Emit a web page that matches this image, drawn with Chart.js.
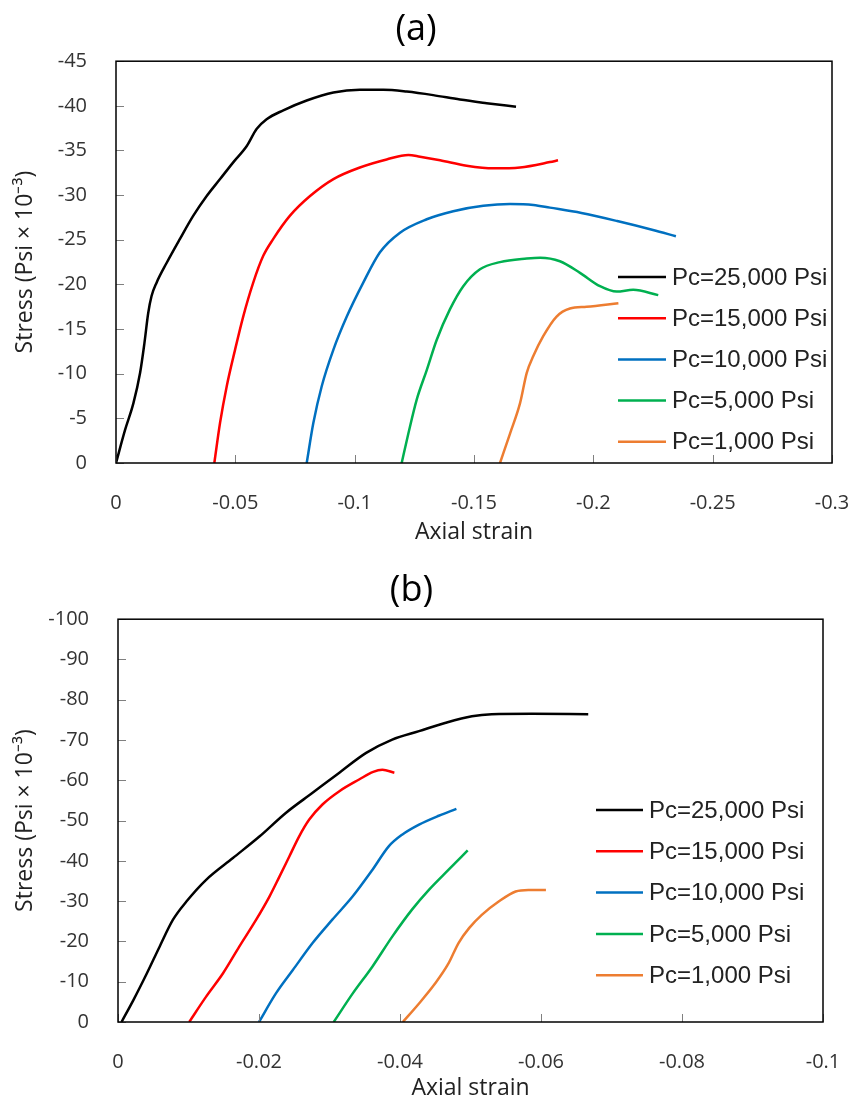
<!DOCTYPE html>
<html>
<head>
<meta charset="utf-8">
<script src="https://cdn.jsdelivr.net/npm/chart.js@4.4.1/dist/chart.umd.min.js"></script>
<style>
  body { margin: 0; background: #fff; }
  canvas { display: block; }
</style>
</head>
<body>
<canvas id="chartA" width="854" height="551"></canvas>
<canvas id="chartB" width="854" height="551"></canvas>
<script>
const seriesLabels = ['Pc=25,000 Psi', 'Pc=15,000 Psi', 'Pc=10,000 Psi', 'Pc=5,000 Psi', 'Pc=1,000 Psi'];
const seriesColors = ['#000000', '#FF0000', '#0070C0', '#00B050', '#ED7D31'];

// tick values
const xTicksA = [0, -0.05, -0.1, -0.15, -0.2, -0.25, -0.3];
const yTicksA = [0, -5, -10, -15, -20, -25, -30, -35, -40, -45];
const xTicksB = [0, -0.02, -0.04, -0.06, -0.08, -0.1];
const yTicksB = [0, -10, -20, -30, -40, -50, -60, -70, -80, -90, -100];

// (a) axial strain / stress (Psi x 10^-3)
const strainA25 = [0, -0.0038, -0.0073, -0.0101, -0.0119, -0.0135, -0.0149, -0.0170, -0.0212, -0.0268, -0.0324, -0.0380, -0.0436, -0.0492, -0.0548, -0.0589, -0.0631, -0.0701, -0.0799, -0.0911, -0.1022, -0.1120, -0.1218, -0.1329, -0.1441, -0.1553, -0.1676];
const stressA25 = [0, -3.7, -6.7, -10.1, -13.4, -16.8, -18.7, -20.2, -22.4, -25.1, -27.7, -29.9, -31.8, -33.7, -35.5, -37.4, -38.5, -39.5, -40.6, -41.5, -41.8, -41.8, -41.6, -41.2, -40.7, -40.3, -39.9];
const strainA15 = [-0.0412, -0.0436, -0.0464, -0.0499, -0.0533, -0.0575, -0.0617, -0.0659, -0.0729, -0.0813, -0.0911, -0.1022, -0.1134, -0.1225, -0.1274, -0.1358, -0.1469, -0.1581, -0.1693, -0.1818, -0.1852];
const stressA15 = [0, -4.5, -8.6, -12.7, -16.4, -20.2, -23.2, -25.1, -27.7, -29.9, -31.8, -33.1, -34.0, -34.5, -34.3, -33.9, -33.3, -33.0, -33.1, -33.7, -33.9];
const strainA10 = [-0.0799, -0.0827, -0.0862, -0.0911, -0.0967, -0.1036, -0.1106, -0.1190, -0.1302, -0.1413, -0.1539, -0.1651, -0.1749, -0.1818, -0.1950, -0.2100, -0.2250, -0.2346];
const stressA10 = [0, -4.5, -8.6, -12.7, -16.4, -20.2, -23.6, -25.8, -27.3, -28.2, -28.8, -29.0, -28.9, -28.6, -28.0, -27.1, -26.1, -25.4];
const strainA5 = [-0.1197, -0.1225, -0.1260, -0.1302, -0.1344, -0.1399, -0.1455, -0.1525, -0.1609, -0.1721, -0.1777, -0.1860, -0.1944, -0.2028, -0.2098, -0.2167, -0.2272];
const stressA5 = [0, -3.3, -7.1, -10.4, -13.8, -17.2, -19.8, -21.7, -22.5, -22.9, -23.0, -22.6, -21.3, -19.8, -19.2, -19.4, -18.8];
const strainA1 = [-0.1609, -0.1651, -0.1693, -0.1721, -0.1749, -0.1790, -0.1846, -0.1902, -0.1972, -0.2105];
const stressA1 = [0, -3.3, -6.7, -10.1, -12.0, -14.2, -16.4, -17.3, -17.5, -17.9];

// (b)
const strainB25 = [-0.0005, -0.0022, -0.0041, -0.0059, -0.0078, -0.0097, -0.0125, -0.0163, -0.0201, -0.0238, -0.0276, -0.0314, -0.0352, -0.0389, -0.0427, -0.0465, -0.0502, -0.0530, -0.0587, -0.0667];
const stressB25 = [0, -5.5, -12.1, -18.7, -25.4, -29.9, -35.3, -40.7, -46.1, -51.9, -56.9, -61.9, -66.8, -70.1, -72.2, -74.3, -75.9, -76.4, -76.5, -76.4];
const strainB15 = [-0.0101, -0.0125, -0.0149, -0.0172, -0.0196, -0.0215, -0.0229, -0.0243, -0.0257, -0.0271, -0.0290, -0.0314, -0.0342, -0.0362, -0.0375, -0.0392];
const stressB15 = [0, -6.3, -12.1, -18.7, -25.4, -31.2, -36.1, -41.1, -46.1, -50.2, -54.0, -57.3, -60.2, -62.1, -62.6, -61.9];
const strainB10 = [-0.0200, -0.0224, -0.0248, -0.0276, -0.0304, -0.0333, -0.0361, -0.0384, -0.0403, -0.0427, -0.0455, -0.0480];
const stressB10 = [0, -7.1, -12.9, -19.6, -25.4, -31.2, -37.8, -43.6, -46.5, -49.0, -51.2, -52.9];
const strainB5 = [-0.0306, -0.0333, -0.0361, -0.0389, -0.0417, -0.0441, -0.0469, -0.0496];
const stressB5 = [0, -7.1, -13.8, -21.2, -27.9, -32.8, -37.8, -42.6];
const strainB1 = [-0.0404, -0.0427, -0.0450, -0.0469, -0.0483, -0.0498, -0.0516, -0.0540, -0.0564, -0.0582, -0.0607];
const stressB1 = [0, -4.6, -9.6, -14.6, -19.6, -23.3, -26.6, -29.9, -32.4, -32.8, -32.8];

const toPoints = (xs, ys) => xs.map((x, i) => ({ x: x, y: ys[i] }));

function makeDatasets(pairs) {
    return pairs.map((p, i) => ({
        label: seriesLabels[i],
        data: toPoints(p[0], p[1]),
        borderColor: seriesColors[i],
        backgroundColor: seriesColors[i],
        borderWidth: 2.5,
        pointRadius: 0,
        cubicInterpolationMode: 'monotone',
        fill: false
    }));
}

// small inward tick marks + box around the plot
const innerTicks = {
    id: 'innerTicks',
    afterDraw(chart) {
        const { ctx, chartArea: a, scales } = chart;
        ctx.save();
        ctx.strokeStyle = '#808080';
        ctx.lineWidth = 1;
        ctx.beginPath();
        scales.x.ticks.forEach(t => {
            const px = Math.round(scales.x.getPixelForValue(t.value)) + 0.5;
            ctx.moveTo(px, a.bottom);
            ctx.lineTo(px, a.bottom - 8);
        });
        scales.y.ticks.forEach(t => {
            const py = Math.round(scales.y.getPixelForValue(t.value)) + 0.5;
            ctx.moveTo(a.left, py);
            ctx.lineTo(a.left + 8, py);
        });
        ctx.stroke();
        ctx.strokeStyle = '#000';
        ctx.lineWidth = 1.5;
        ctx.strokeRect(a.left, a.top, a.width, a.height);
        ctx.restore();
    }
};

// legend drawn inside the plot
const lineLegend = {
    id: 'lineLegend',
    afterDraw(chart, args, opts) {
        const ctx = chart.ctx;
        ctx.save();
        ctx.font = '24px "Liberation Sans", Arial, sans-serif';
        ctx.textBaseline = 'middle';
        chart.data.datasets.forEach((ds, i) => {
            const yy = opts.top + i * opts.gap;
            ctx.strokeStyle = ds.borderColor;
            ctx.lineWidth = 2.5;
            ctx.beginPath();
            ctx.moveTo(opts.left, yy);
            ctx.lineTo(opts.left + opts.lineLen, yy);
            ctx.stroke();
            ctx.fillStyle = '#222';
            ctx.fillText(ds.label, opts.left + opts.lineLen + 6, yy + 1);
        });
        ctx.restore();
    }
};

const fmt = v => String(Math.round(v * 1000) / 1000);

function makeChart(id, cfg) {
    return new Chart(document.getElementById(id), {
        type: 'line',
        data: { datasets: makeDatasets(cfg.pairs) },
        plugins: [innerTicks, lineLegend],
        options: {
            responsive: false,
            animation: false,
            devicePixelRatio: 1,
            layout: { padding: { left: 0, right: cfg.padRight, top: 0, bottom: 0 } },
            scales: {
                x: {
                    type: 'linear',
                    min: cfg.xTicks[cfg.xTicks.length - 1],
                    max: 0,
                    reverse: true,
                    afterBuildTicks: s => { s.ticks = cfg.xTicks.map(v => ({ value: v })); },
                    afterFit: s => { s.height = cfg.xHeight; s.paddingLeft = 0; s.paddingRight = 0; },
                    grid: { display: false },
                    border: { display: false },
                    ticks: {
                        autoSkip: false, maxRotation: 0, minRotation: 0, padding: 20,
                        callback: fmt,
                        font: { family: 'Open Sans', size: 20 }, color: '#333'
                    },
                    title: {
                        display: true, text: 'Axial strain',
                        font: { family: 'Open Sans', size: 23 }, color: '#222',
                        padding: { top: 0, bottom: cfg.xTitlePad }
                    }
                },
                y: {
                    type: 'linear',
                    min: cfg.yTicks[cfg.yTicks.length - 1],
                    max: 0,
                    reverse: true,
                    afterBuildTicks: s => { s.ticks = cfg.yTicks.map(v => ({ value: v })); },
                    afterFit: s => { s.width = cfg.yWidth; s.paddingTop = 0; s.paddingBottom = 0; },
                    grid: { display: false },
                    border: { display: false },
                    ticks: {
                        autoSkip: false, padding: 21,
                        callback: fmt,
                        font: { family: 'Open Sans', size: 20 }, color: '#333'
                    },
                    title: {
                        display: true, text: 'Stress (Psi × 10⁻³)',
                        font: { family: 'Open Sans', size: 23 }, color: '#222',
                        padding: { top: 12, bottom: 0 }
                    }
                }
            },
            plugins: {
                legend: { display: false },
                tooltip: { enabled: false },
                title: {
                    display: true, text: cfg.title,
                    font: { family: 'Open Sans', size: 36, weight: 'normal' }, color: '#000',
                    padding: cfg.titlePad
                },
                lineLegend: cfg.legend
            }
        }
    });
}

makeChart('chartA', {
    title: '(a)',
    titlePad: { top: 8, bottom: 10 },
    pairs: [[strainA25, stressA25], [strainA15, stressA15], [strainA10, stressA10], [strainA5, stressA5], [strainA1, stressA1]],
    xTicks: xTicksA, yTicks: yTicksA,
    padRight: 22, yWidth: 116, xHeight: 88, xTitlePad: 5,
    legend: { left: 618, top: 277, gap: 41.2, lineLen: 48 }
});

makeChart('chartB', {
    title: '(b)',
    titlePad: { top: 18, bottom: 7 },
    pairs: [[strainB25, stressB25], [strainB15, stressB15], [strainB10, stressB10], [strainB5, stressB5], [strainB1, stressB1]],
    xTicks: xTicksB, yTicks: yTicksB,
    padRight: 31, yWidth: 118, xHeight: 80, xTitlePad: 0,
    legend: { left: 596, top: 259, gap: 41.3, lineLen: 47 }
});
</script>
</body>
</html>
